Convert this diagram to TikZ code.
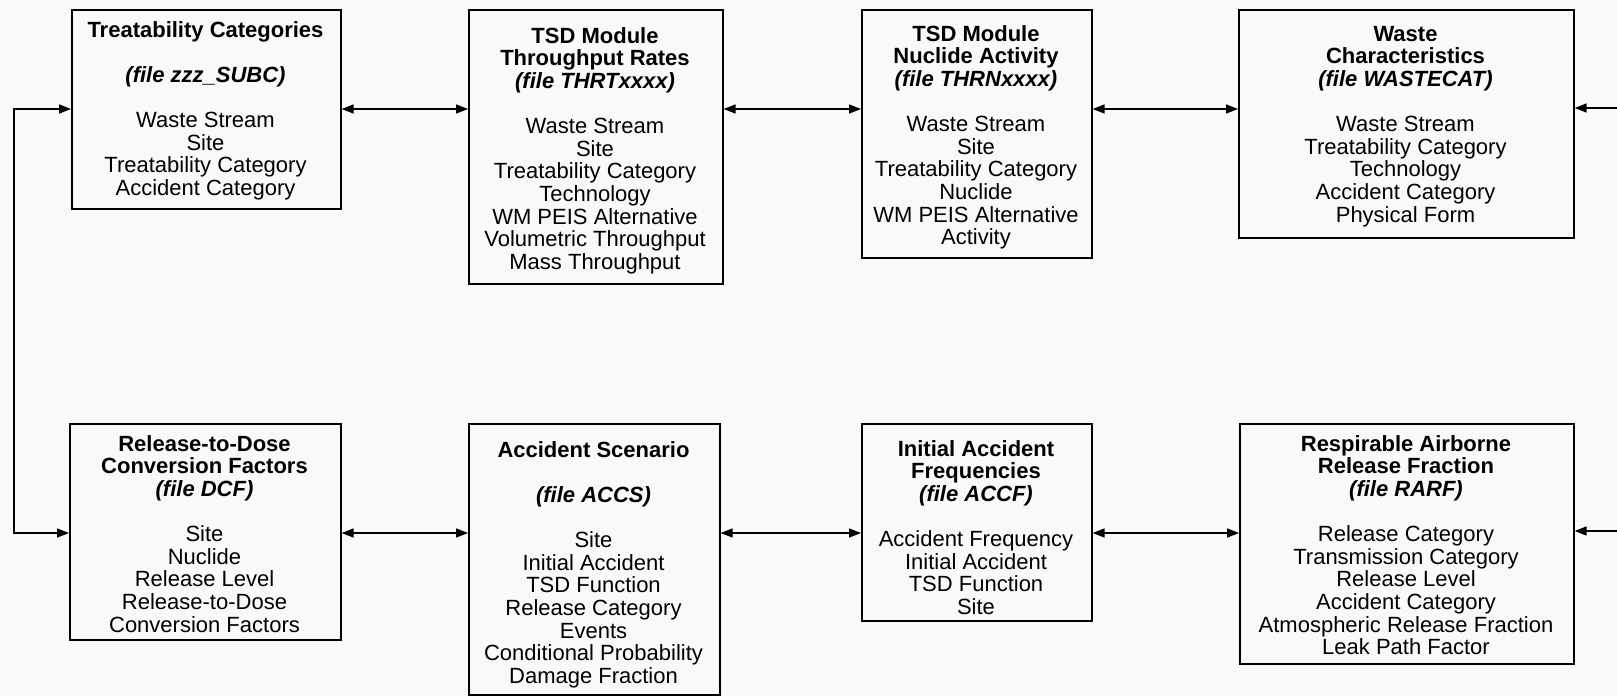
\documentclass[tikz,border=0pt]{standalone}
\usepackage{fontspec}
\setmainfont{Liberation Sans}
\usetikzlibrary{arrows.meta,calc}
\definecolor{bg}{RGB}{249,249,249}
\newcommand\bfit[1]{\textbf{\textit{#1}}}
\newcommand\fr{\rule{0pt}{17pt}}
\begin{document}
\begin{tikzpicture}[x=1pt,y=-1pt,
  box/.style={draw, line width=1.6pt, rectangle, inner sep=0pt, anchor=north west},
  txt/.style={anchor=north, inner sep=0pt, align=center, font=\fontsize{22}{22.6}\selectfont},
  con/.style={line width=1.5pt, {Triangle[length=12pt,width=9pt]}-{Triangle[length=12pt,width=9pt]}},
  one/.style={line width=1.5pt, -{Triangle[length=12pt,width=9pt]}}]
\path[use as bounding box, fill=bg] (0,0) rectangle (1617,696);

% boxes
\node[box, minimum width=269pt, minimum height=199pt] (b1) at (71,9) {};
\node[box, minimum width=254pt, minimum height=274pt] (b2) at (468,9) {};
\node[box, minimum width=230pt, minimum height=248pt] (b3) at (861,9) {};
\node[box, minimum width=335pt, minimum height=228pt] (b4) at (1238,9) {};
\node[box, minimum width=271pt, minimum height=216pt] (b5) at (69,423) {};
\node[box, minimum width=251pt, minimum height=271pt] (b6) at (468,423) {};
\node[box, minimum width=230pt, minimum height=197pt] (b7) at (861,423) {};
\node[box, minimum width=334pt, minimum height=240pt] (b8) at (1239,423) {};

% texts
\node[txt] (t1) at (205.5,20) {\fr\textbf{Treatability Categories}\\[22.6pt]
  \bfit{(file zzz\_SUBC)}\\[22.6pt]
  Waste Stream\\ Site\\ Treatability Category\\ Accident Category};
\node[txt] (t2) at (595,26) {\fr\textbf{TSD Module}\\ \textbf{Throughput Rates}\\
  \bfit{(file THRTxxxx)}\\[22.6pt]
  Waste Stream\\ Site\\ Treatability Category\\ Technology\\ WM PEIS Alternative\\
  Volumetric Throughput\\ Mass Throughput};
\node[txt] (t3) at (976,24) {\fr\textbf{TSD Module}\\ \textbf{Nuclide Activity}\\
  \bfit{(file THRNxxxx)}\\[22.6pt]
  Waste Stream\\ Site\\ Treatability Category\\ Nuclide\\ WM PEIS Alternative\\ Activity};
\node[txt] (t4) at (1405.5,24) {\fr\textbf{Waste}\\ \textbf{Characteristics}\\
  \bfit{(file WASTECAT)}\\[22.6pt]
  Waste Stream\\ Treatability Category\\ Technology\\ Accident Category\\ Physical Form};
\node[txt] (t5) at (204.5,434) {\fr\textbf{Release-to-Dose}\\ \textbf{Conversion Factors}\\
  \bfit{(file DCF)}\\[22.6pt]
  Site\\ Nuclide\\ Release Level\\ Release-to-Dose\\ Conversion Factors};
\node[txt] (t6) at (593.5,440) {\fr\textbf{Accident Scenario}\\[22.6pt]
  \bfit{(file ACCS)}\\[22.6pt]
  Site\\ Initial Accident\\ TSD Function\\ Release Category\\ Events\\
  Conditional Probability\\ Damage Fraction};
\node[txt] (t7) at (976,439) {\fr\textbf{Initial Accident}\\ \textbf{Frequencies}\\
  \bfit{(file ACCF)}\\[22.6pt]
  Accident Frequency\\ Initial Accident\\ TSD Function\\ Site};
\node[txt] (t8) at (1406,434) {\fr\textbf{Respirable Airborne}\\ \textbf{Release Fraction}\\
  \bfit{(file RARF)}\\[22.6pt]
  Release Category\\ Transmission Category\\ Release Level\\ Accident Category\\
  Atmospheric Release Fraction\\ Leak Path Factor};

% connector rows
\coordinate (r1) at (0,109);
\coordinate (r2) at (0,533);
\coordinate (lc) at (14,0);
\coordinate (e1) at (1620,108);
\coordinate (e2) at (1620,531);

\draw[con] (b1.east |- r1) -- (b2.west |- r1);
\draw[con] (b2.east |- r1) -- (b3.west |- r1);
\draw[con] (b3.east |- r1) -- (b4.west |- r1);
\draw[one] (e1) -- (b4.east |- e1);

\draw[con] (b5.east |- r2) -- (b6.west |- r2);
\draw[con] (b6.east |- r2) -- (b7.west |- r2);
\draw[con] (b7.east |- r2) -- (b8.west |- r2);
\draw[one] (e2) -- (b8.east |- e2);

\draw[con] (b1.west |- r1) -- (lc |- r1) -- (lc |- r2) -- (b5.west |- r2);
\end{tikzpicture}
\end{document}
